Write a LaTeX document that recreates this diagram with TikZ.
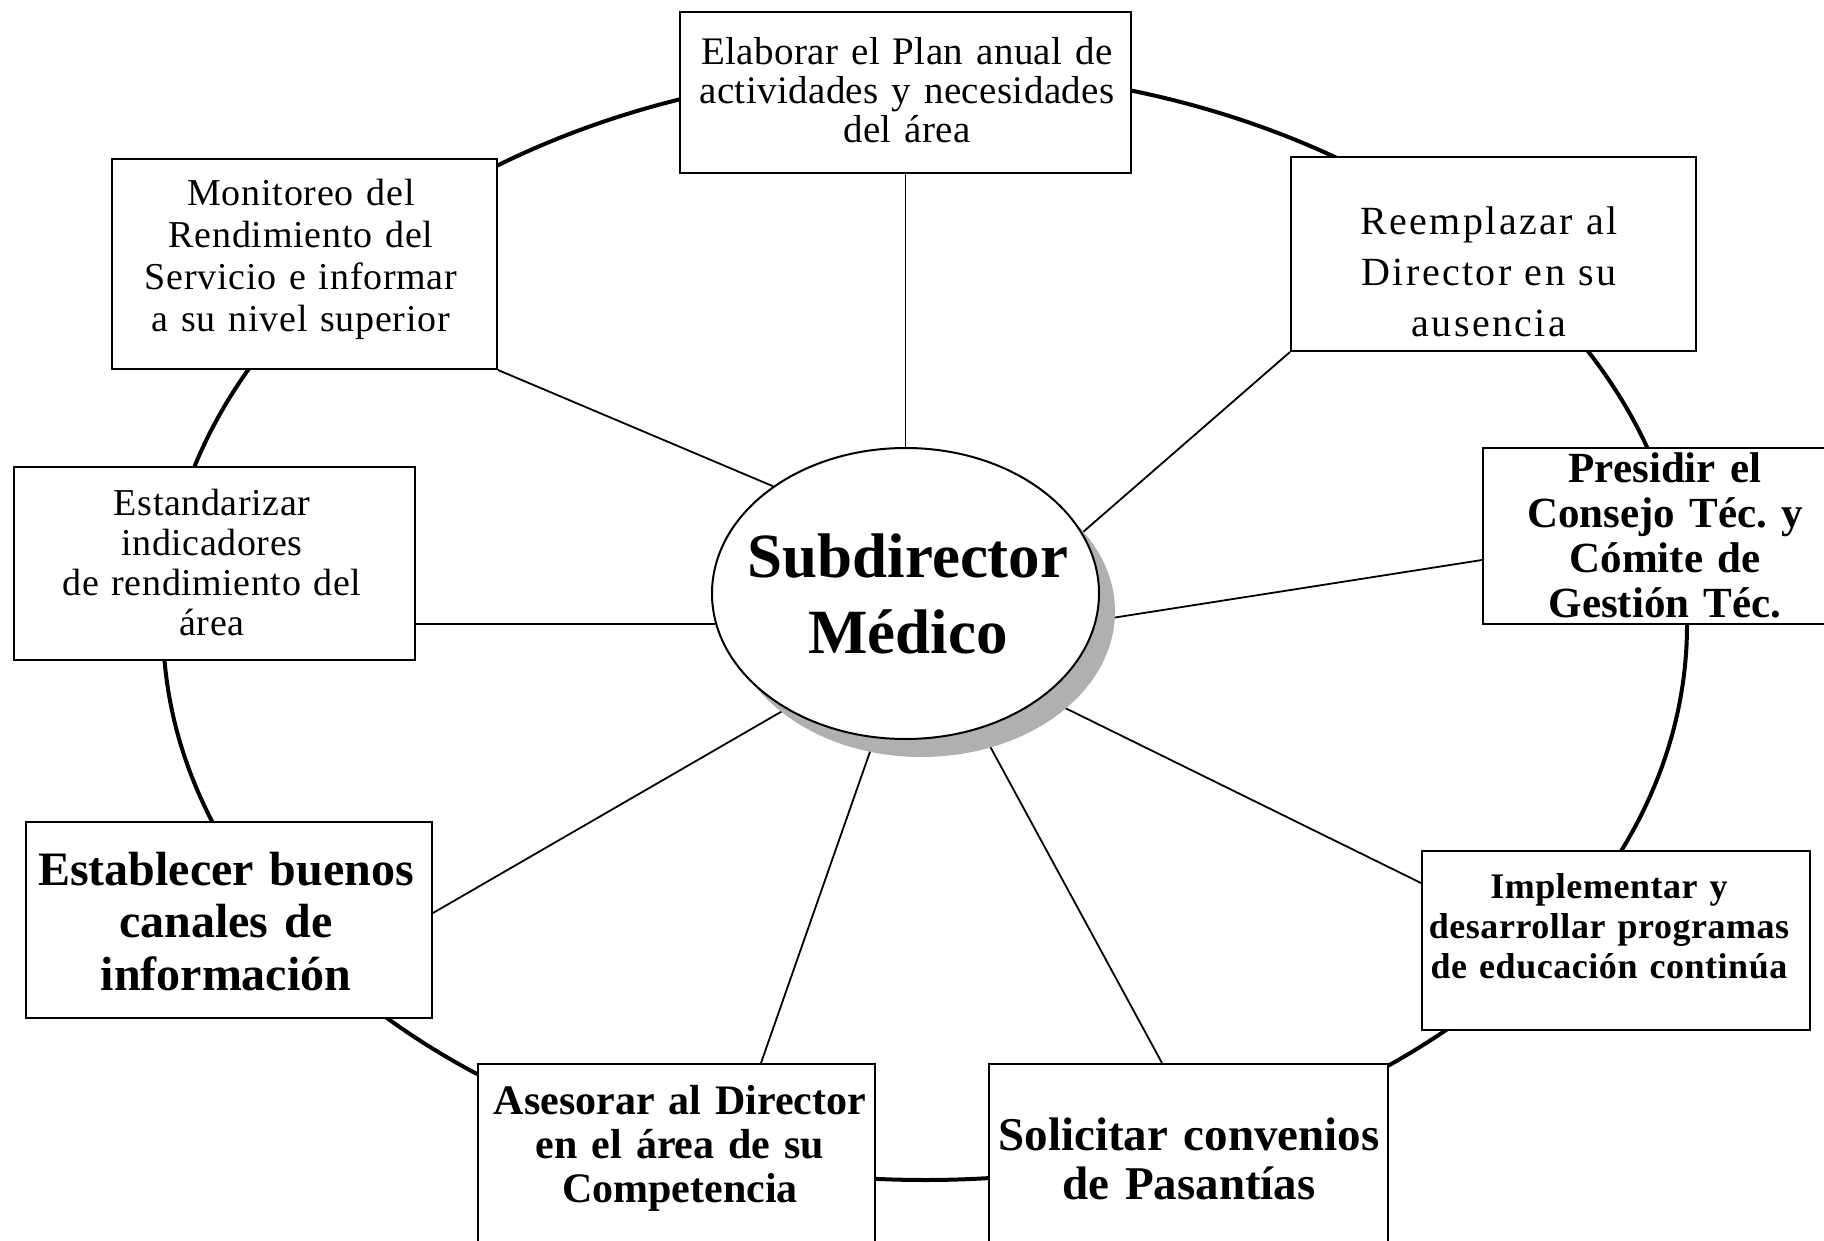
\documentclass[tikz,border=0pt]{standalone}
\usepackage{fontspec}
\setmainfont{Liberation Serif}
\usetikzlibrary{shapes.geometric,shadows,backgrounds}
% size, baseline skip, letter spacing
\newcommand{\dutyfont}[3]{\fontsize{#1}{#2}\selectfont\addfontfeatures{LetterSpace=#3}}
\tikzset{
  duty/.style={draw, line width=2pt, fill=white, rectangle, inner sep=0pt},
  dutytext/.style={inner sep=0pt, anchor=base, align=center, text width=470pt},
  spoke/.style={line width=1.8pt},
  orbit/.style={line width=4pt},
}
\begin{document}
\begin{tikzpicture}[x=1pt,y=-1pt]
\path[use as bounding box, clip] (0,0) rectangle (1824,1241);

% outer ring linking all the duties
\draw[orbit] (925,625) ellipse [x radius=762pt, y radius=555pt];

% central role
\node[ellipse, draw, line width=2pt, fill=white, inner sep=0pt,
      minimum width=387pt, minimum height=291pt,
      general shadow={shadow xshift=16pt, shadow yshift=-18pt, fill=gray!62}]
      (c) at (905.5,593.5) {};
\node[dutytext, font=\bfseries\dutyfont{63}{76}{0}] (ct) at (908,577) {Subdirector\\Médico};

% duty boxes
\node[duty, minimum width=451pt, minimum height=161pt] (elab)   at (905.5,92.5) {};
\node[duty, minimum width=385pt, minimum height=210pt] (mon)    at (304.5,264) {};
\node[duty, minimum width=405pt, minimum height=194pt] (reemp)  at (1493.5,254) {};
\node[duty, minimum width=417pt, minimum height=176pt] (pres)   at (1691.5,536) {};
\node[duty, minimum width=401pt, minimum height=193pt] (estand) at (214.5,563.5) {};
\node[duty, minimum width=406pt, minimum height=196pt] (establ) at (229,920) {};
\node[duty, minimum width=388pt, minimum height=179pt] (impl)   at (1616,940.5) {};
\node[duty, minimum width=397pt, minimum height=236pt] (ases)   at (676.5,1182) {};
\node[duty, minimum width=399pt, minimum height=236pt] (solic)  at (1188.5,1182) {};

% duty texts
\node[dutytext, font=\dutyfont{39}{39}{1}] (elabt) at (907,65)
  {Elaborar el Plan anual de\\actividades y necesidades\\del área};
\node[dutytext, font=\dutyfont{38}{42}{2}] (mont) at (301,206)
  {Monitoreo del\\Rendimiento del\\Servicio e informar\\a su nivel superior};
\node[dutytext, font=\dutyfont{40}{51}{6}] (reempt) at (1489,235)
  {Reemplazar al\\Director en su\\ausencia};
\node[dutytext, font=\bfseries\dutyfont{43}{45}{0}] (prest) at (1665,482)
  {Presidir el\\Consejo Téc.\ y\\Cómite de\\Gestión Téc.};
\node[dutytext, font=\dutyfont{38}{40}{1.5}] (estandt) at (212,515)
  {Estandarizar\\indicadores\\de rendimiento del\\área};
\node[dutytext, font=\bfseries\dutyfont{48}{52.5}{0}] (establt) at (226,885)
  {Establecer buenos\\canales de\\información};
\node[dutytext, font=\bfseries\dutyfont{36}{40}{1.5}] (implt) at (1609,898)
  {Implementar y\\desarrollar programas\\de educación continúa};
\node[dutytext, font=\bfseries\dutyfont{42}{44}{0}] (asest) at (680,1114)
  {Asesorar al Director\\en el área de su\\Competencia};
\node[dutytext, font=\bfseries\dutyfont{47}{49}{0}] (solict) at (1189,1150)
  {Solicitar convenios\\de Pasantías};

% spokes from the central role to each duty
\begin{scope}[on background layer]
\draw[spoke] (elab.south) -- (c.north);
\draw[spoke] (mon.south east) -- (c.141.6);
\draw[spoke] (reemp.south west) -- (c.19.7);
\draw[spoke] ([yshift=-113pt]pres.north west) -- (c.-8.6);
\draw[spoke] (c.189.5) -- (c.189.5 -| estand.east);
\draw[spoke] ([yshift=7pt]establ.east) -- (c.224);
\draw[spoke] ([xshift=284pt]ases.north west) -- (c.258.3);
\draw[spoke] ([xshift=174pt]solic.north west) -- (c.299.8);
\draw[spoke] ([yshift=-33pt]impl.north west) -- (c.323.8);
\end{scope}
\end{tikzpicture}
\end{document}
